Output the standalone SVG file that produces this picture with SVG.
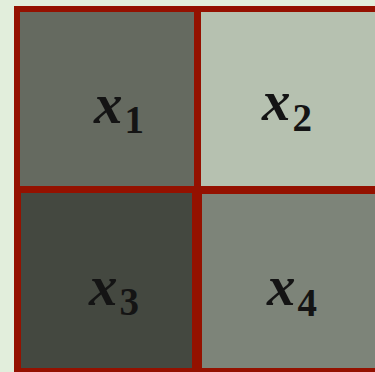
<svg xmlns="http://www.w3.org/2000/svg" width="375" height="372" viewBox="0 0 375 372">
<style>
.v{font-family:"Liberation Serif","DejaVu Serif",serif;font-weight:bold;font-style:italic;font-size:57px;fill:#141414}
.s{font-size:39px;font-style:normal}
</style>
<rect width="375" height="372" fill="#e2eedc"/>
<rect x="14" y="6" width="361" height="366" fill="#941100"/>
<g id="x1"><rect x="20" y="12" width="174" height="174" fill="#656a60"/><text class="v" x="94" y="123">x<tspan class="s" dx="2" dy="10">1</tspan></text></g>
<g id="x2"><rect x="201" y="12" width="174" height="174" fill="#b6c1b0"/><text class="v" x="262" y="120">x<tspan class="s" dx="2" dy="11">2</tspan></text></g>
<g id="x3"><rect x="21" y="193" width="171" height="175" fill="#444840"/><text class="v" x="89" y="305">x<tspan class="s" dx="2" dy="10">3</tspan></text></g>
<g id="x4"><rect x="202" y="194" width="173" height="174" fill="#7d8479"/><text class="v" x="267" y="305">x<tspan class="s" dx="2" dy="11">4</tspan></text></g>
</svg>
